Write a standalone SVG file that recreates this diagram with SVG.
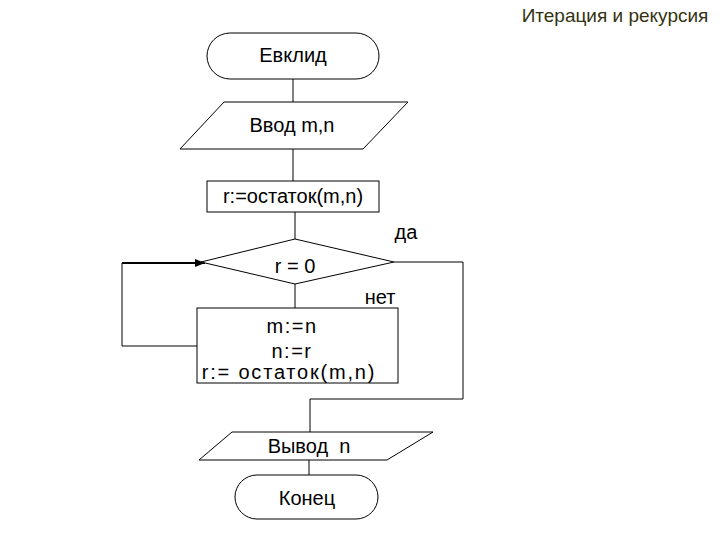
<svg xmlns="http://www.w3.org/2000/svg" width="720" height="540" viewBox="0 0 720 540">
<style>
.s{fill:#fff;stroke:#000;stroke-width:1}
.t{font-family:"Liberation Sans",Arial,sans-serif;font-size:20px;fill:#000;text-anchor:middle}
.c{fill:none;stroke:#000;stroke-width:1}
</style>
<defs>
<marker id="ah" viewBox="0 0 10 10" refX="10" refY="5" markerWidth="5" markerHeight="5" orient="auto" markerUnits="strokeWidth">
<path d="M0,1 L10,5 L0,9 z" fill="#000"/>
</marker>
</defs>
<rect width="720" height="540" fill="#fff"/>
<text x="615" y="22" style="font-family:'Liberation Sans',Arial,sans-serif;font-size:19px;fill:#333311;text-anchor:middle">Итерация и рекурсия</text>
<g id="connectors">
<line class="c" x1="293" y1="79" x2="293" y2="102"/>
<line class="c" x1="293" y1="149" x2="293" y2="181"/>
<line class="c" x1="295" y1="212" x2="295" y2="239"/>
<line class="c" x1="295" y1="284" x2="295" y2="308"/>
<polyline class="c" points="394,262 463,262 463,399 310,399 310,432"/>
<polyline class="c" points="197,346 122,346 122,263"/>
<line x1="122" y1="263" x2="205" y2="263" stroke="#000" stroke-width="2" marker-end="url(#ah)"/>
<line class="c" x1="309" y1="460" x2="309" y2="475"/>
</g>
<g id="start">
<rect class="s" x="207" y="33" width="172" height="46" rx="23" ry="23"/>
<text class="t" x="293" y="62">Евклид</text>
</g>
<g id="input">
<polygon class="s" points="224,102 408,102 363,149 180,149"/>
<text class="t" x="292" y="132">Ввод m,n</text>
</g>
<g id="init">
<rect class="s" x="207" y="181" width="172" height="31"/>
<text class="t" x="293" y="203">r:=остаток(m,n)</text>
</g>
<g id="cond">
<polygon class="s" points="295,239 394,262 295,284 201,262"/>
<text class="t" x="295" y="273">r = 0</text>
<text class="t" x="406" y="239">да</text>
<text class="t" x="380" y="304">нет</text>
</g>
<g id="body">
<rect class="s" x="197" y="308" width="201" height="75"/>
<text class="t" x="292" y="333" style="letter-spacing:1.5px">m:=n</text>
<text class="t" x="292" y="358" style="letter-spacing:1.5px">n:=r</text>
<text class="t" x="289" y="379" style="letter-spacing:1.8px">r:= остаток(m,n)</text>
</g>
<g id="output">
<polygon class="s" points="232,432 433,432 387,460 199,460"/>
<text class="t" x="309" y="453">Вывод&#160; n</text>
</g>
<g id="end">
<rect class="s" x="235" y="475" width="143" height="44" rx="22" ry="22"/>
<text class="t" x="307" y="505">Конец</text>
</g>
</svg>
